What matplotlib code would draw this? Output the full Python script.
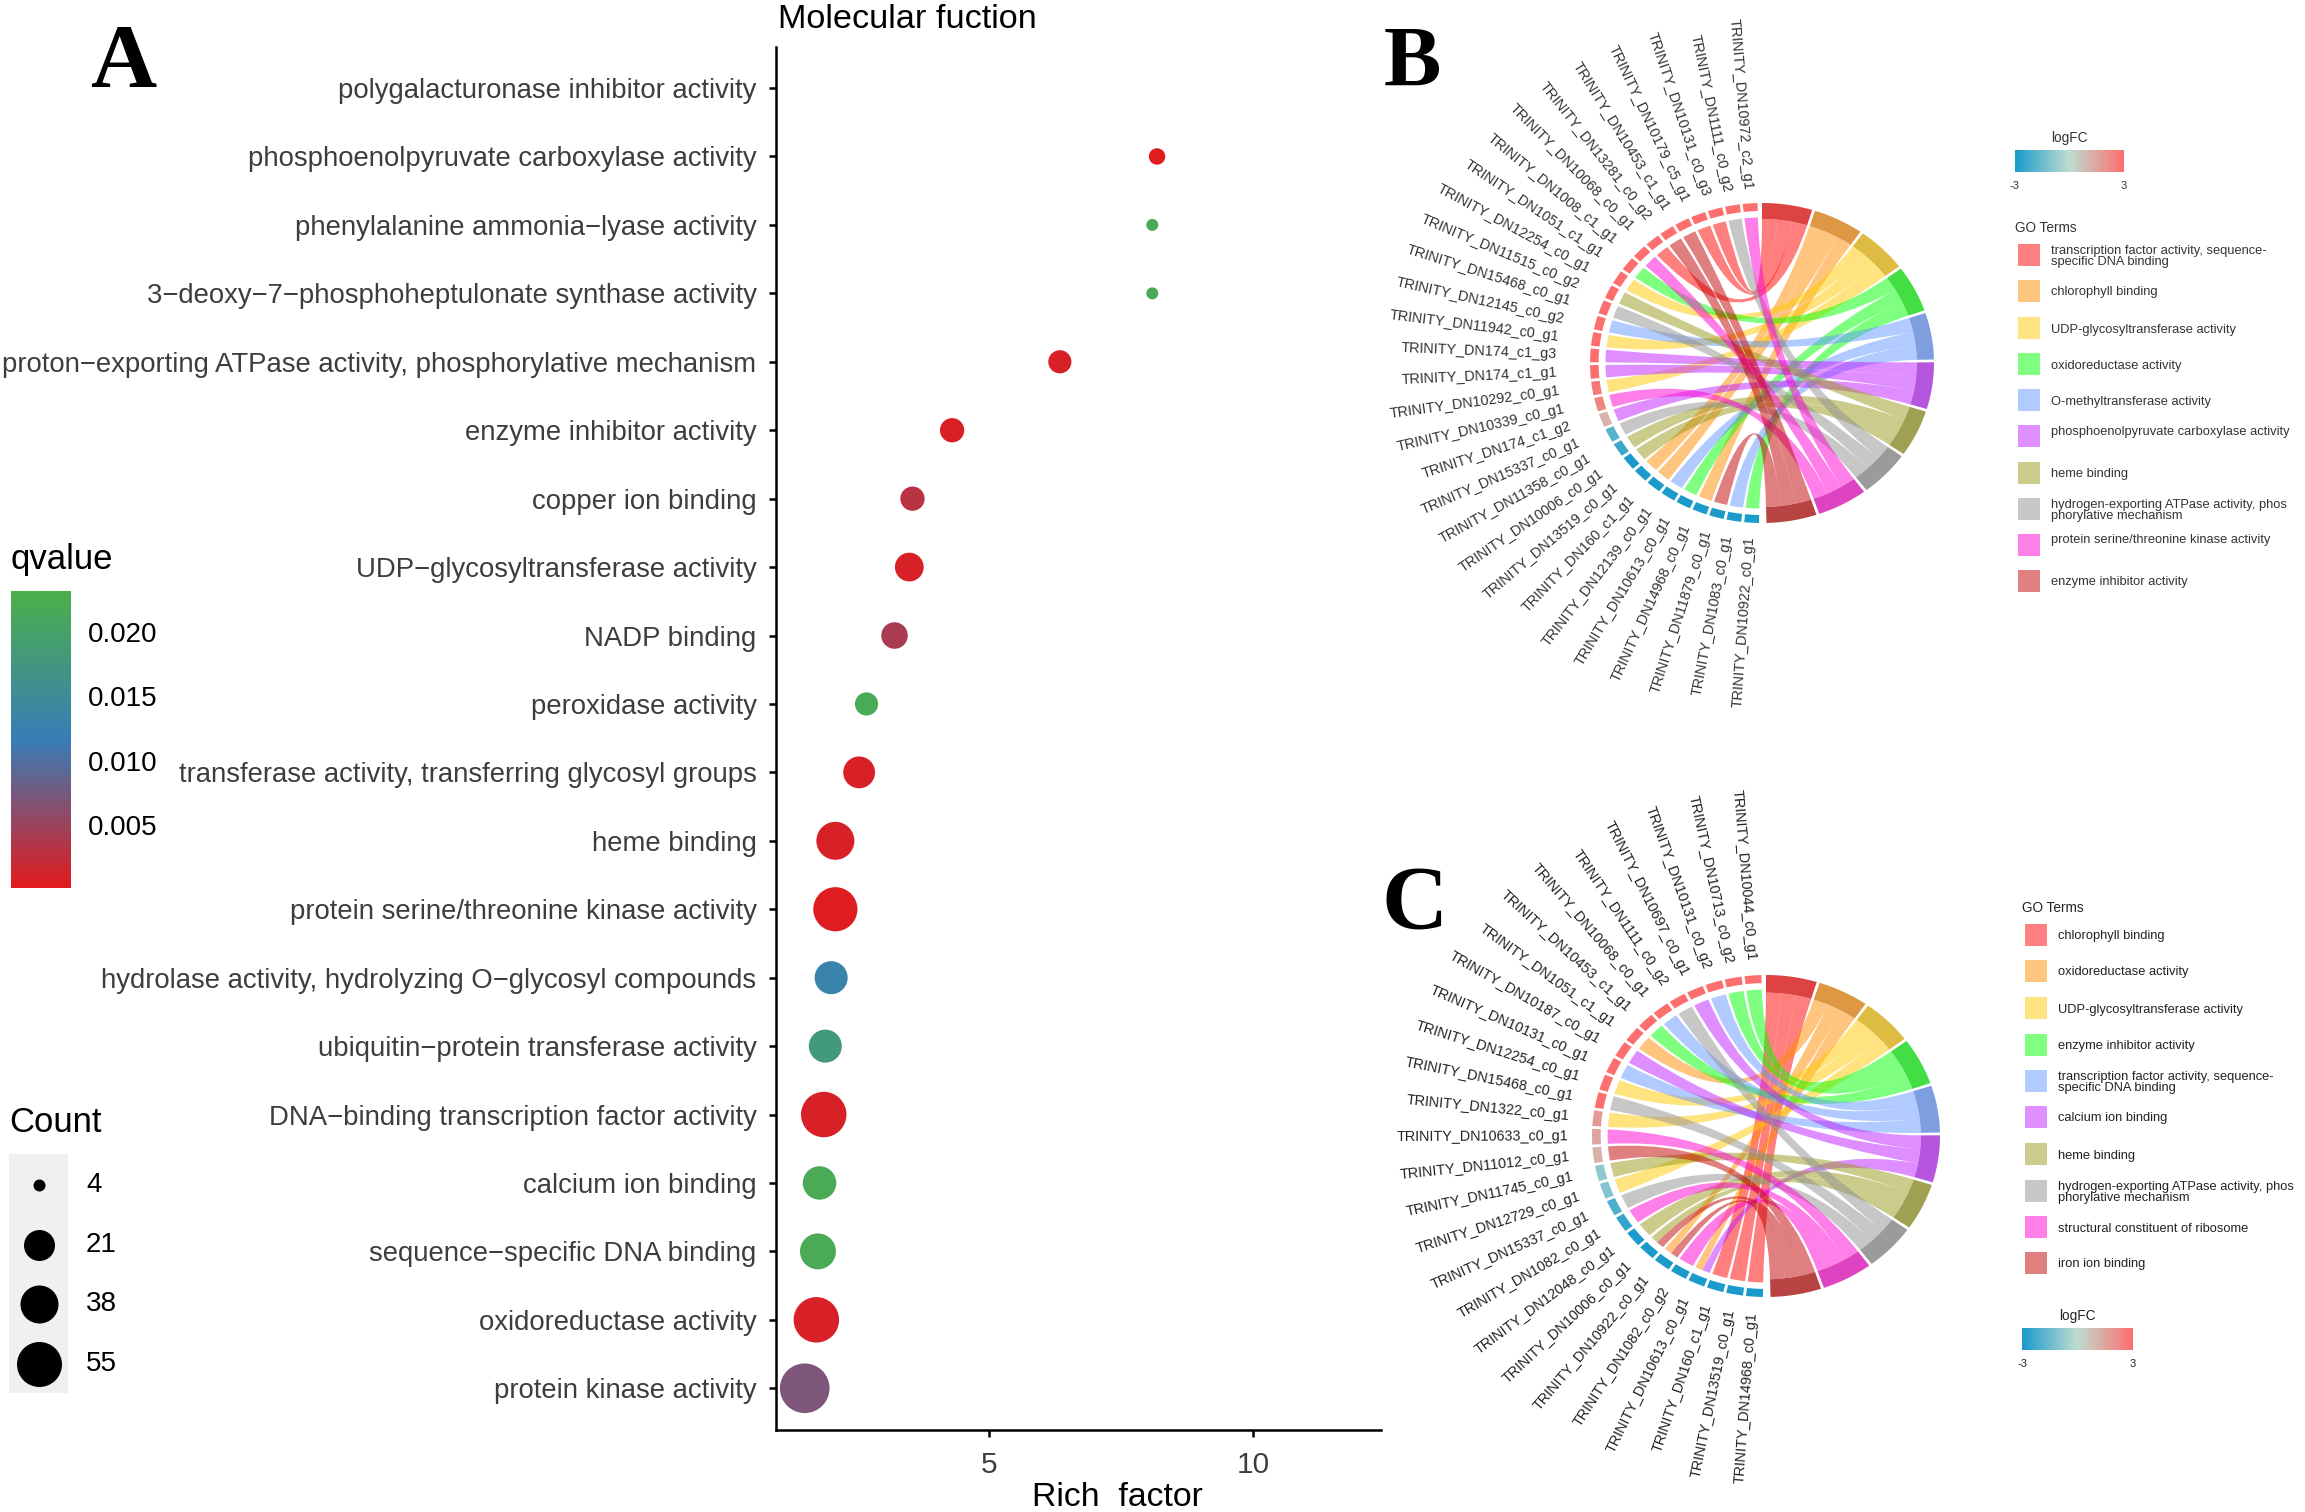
import numpy as np
import matplotlib
matplotlib.use('Agg')
import matplotlib.pyplot as plt
from matplotlib.colors import LinearSegmentedColormap, Normalize, to_rgb
from matplotlib.patches import PathPatch, Rectangle
from matplotlib.path import Path

plt.rcParams['font.family'] = ['Liberation Sans', 'DejaVu Sans']

# panel A
go_terms = ['polygalacturonase inhibitor activity', 'phosphoenolpyruvate carboxylase activity',
            'phenylalanine ammonia−lyase activity', '3−deoxy−7−phosphoheptulonate synthase activity',
            'proton−exporting ATPase activity, phosphorylative mechanism', 'enzyme inhibitor activity',
            'copper ion binding', 'UDP−glycosyltransferase activity', 'NADP binding', 'peroxidase activity',
            'transferase activity, transferring glycosyl groups', 'heme binding',
            'protein serine/threonine kinase activity', 'hydrolase activity, hydrolyzing O−glycosyl compounds',
            'ubiquitin−protein transferase activity', 'DNA−binding transcription factor activity',
            'calcium ion binding', 'sequence−specific DNA binding', 'oxidoreductase activity',
            'protein kinase activity']
rich_factor = [np.nan, 8.18, 8.09, 8.09, 6.34, 4.3, 3.55, 3.49, 3.21, 2.68, 2.54, 2.09, 2.09, 2.01, 1.9, 1.87,
               1.79, 1.76, 1.73, 1.51]
qvalue = [np.nan, 0.0005, 0.022, 0.022, 0.001, 0.001, 0.003, 0.001, 0.004, 0.022, 0.001, 0.001, 0.0005, 0.013,
          0.018, 0.001, 0.022, 0.022, 0.001, 0.007]
count = [np.nan, 8, 4, 4, 14, 15, 15, 19, 17, 14, 23, 38, 53, 26, 26, 56, 27, 33, 56, 65]
count_ticks = [4, 21, 38, 55]
q_ticks = [0.005, 0.010, 0.015, 0.020]

# panel B
genes_b = ['DN10972_c2_g1', 'DN1111_c0_g2', 'DN10131_c0_g3', 'DN10179_c5_g1', 'DN10453_c1_g1', 'DN13281_c0_g2',
           'DN10068_c0_g1', 'DN1008_c1_g1', 'DN1051_c1_g1', 'DN12254_c0_g1', 'DN11515_c0_g2', 'DN15468_c0_g1',
           'DN12145_c0_g2', 'DN11942_c0_g1', 'DN174_c1_g3', 'DN174_c1_g1', 'DN10292_c0_g1', 'DN10339_c0_g1',
           'DN174_c1_g2', 'DN15337_c0_g1', 'DN11358_c0_g1', 'DN10006_c0_g1', 'DN13519_c0_g1', 'DN160_c1_g1',
           'DN12139_c0_g1', 'DN10613_c0_g1', 'DN14968_c0_g1', 'DN11879_c0_g1', 'DN1083_c0_g1', 'DN10922_c0_g1']
logfc_b = [3, 3, 3, 3, 3, 3, 3, 3, 3, 3, 3, 3, 3, 3, 3, 3, 2.7, 2.4, 1.2, -1.9, -2.4, -3, -3, -3, -3, -3, -3, -3, -3, -3]
terms_b = ['transcription factor activity, sequence-\nspecific DNA binding', 'chlorophyll binding',
           'UDP-glycosyltransferase activity', 'oxidoreductase activity', 'O-methyltransferase activity',
           'phosphoenolpyruvate carboxylase activity', 'heme binding',
           'hydrogen-exporting ATPase activity, phos\nphorylative mechanism',
           'protein serine/threonine kinase activity', 'enzyme inhibitor activity']
# which term each gene links to, top of the circle going anticlockwise
links_b = [[8], [7], [0], [0], [9], [9], [0], [8], [3], [2], [6], [7], [4], [2], [5], [5], [2], [8], [5], [7], [6], [6],
           [1], [1], [4], [3], [1], [9], [4], [3]]

# panel C
genes_c = ['DN10044_c0_g1', 'DN10713_c0_g2', 'DN10131_c0_g2', 'DN10697_c0_g1', 'DN1111_c0_g2', 'DN10068_c0_g1',
           'DN10453_c1_g1', 'DN1051_c1_g1', 'DN10187_c0_g1', 'DN10131_c0_g1', 'DN12254_c0_g1', 'DN15468_c0_g1',
           'DN1322_c0_g1', 'DN10633_c0_g1', 'DN11012_c0_g1', 'DN11745_c0_g1', 'DN12729_c0_g1', 'DN15337_c0_g1',
           'DN1082_c0_g1', 'DN12048_c0_g1', 'DN10006_c0_g1', 'DN10922_c0_g1', 'DN1082_c0_g2', 'DN10613_c0_g1',
           'DN160_c1_g1', 'DN13519_c0_g1', 'DN14968_c0_g1']
logfc_c = [3, 3, 3, 3, 3, 3, 3, 3, 3, 3, 3, 3, 1.8, 1.5, 1.2, -0.9, -1.1, -2.1, -2.6, -3, -3, -3, -3, -3, -3, -3, -3]
terms_c = ['chlorophyll binding', 'oxidoreductase activity', 'UDP-glycosyltransferase activity',
           'enzyme inhibitor activity', 'transcription factor activity, sequence-\nspecific DNA binding',
           'calcium ion binding', 'heme binding', 'hydrogen-exporting ATPase activity, phos\nphorylative mechanism',
           'structural constituent of ribosome', 'iron ion binding']
links_c = [[3], [3], [4], [5], [7], [4], [3], [1], [5], [4], [2], [7], [2], [8], [9], [6], [2], [7], [8], [6], [6, 9],
           [1, 9], [8], [1, 5], [0], [0], [0]]

term_colors = ['#ff0000', '#ff8c00', '#ffc800', '#00ff00', '#6496ff', '#be1eff', '#999919', '#919191', '#ff00d2',
               '#c10000']
logfc_cmap = LinearSegmentedColormap.from_list('logfc', ['#1a9bcb', '#bfddd1', '#fd6f6e'])
logfc_norm = Normalize(-3, 3)
q_cmap = LinearSegmentedColormap.from_list('q', ['#e41a1c', '#377eb8', '#4daf4a'])
q_norm = Normalize(0.0001, 0.0232)

W, H = 2305, 1512
PX = 0.72  # points per pixel at dpi 100
fig = plt.figure(figsize=(W / 100, H / 100), dpi=100)

# overlay in pixel coordinates for the legends and the chord panels
ov = fig.add_axes([0, 0, 1, 1])
ov.set_axis_off()


def lighter(c, a):
    return tuple(a * v + (1 - a) for v in to_rgb(c))


def polar(theta, r, c):
    t = np.radians(theta)
    return c[0] + c[2] * r * np.sin(t), c[1] - c[3] * r * np.cos(t)


def ring(t1, t2, r1, r2, c, color):
    ts = np.linspace(t1, t2, 30)
    xo, yo = polar(ts, r2, c)
    xi, yi = polar(ts[::-1], r1, c)
    ov.fill(np.r_[xo, xi], np.r_[yo, yi], color=color, lw=0, zorder=3)


def ribbon(g1, g2, s1, s2, c, rg, rs, color):
    # gene arc, curve through the centre, sector arc backwards, curve back
    tg = np.linspace(g1, g2, 12)
    ts = np.linspace(s2, s1, 12)
    gx, gy = polar(tg, rg, c)
    sx, sy = polar(ts, rs, c)
    verts = list(zip(gx, gy)) + [(c[0], c[1]), (sx[0], sy[0])] + list(zip(sx[1:], sy[1:])) + \
        [(c[0], c[1]), (gx[0], gy[0]), (gx[0], gy[0])]
    codes = [Path.MOVETO] + [Path.LINETO] * 11 + [Path.CURVE3, Path.CURVE3] + [Path.LINETO] * 11 + \
        [Path.CURVE3, Path.CURVE3, Path.CLOSEPOLY]
    ov.add_patch(PathPatch(Path(verts, codes), facecolor=color, edgecolor='none', alpha=0.5, zorder=2))


def chord(genes, logfc, links, c, label_r, band_in, label_color):
    n_terms = len(term_colors)
    sec_w = 179.5 / n_terms
    gene_w = 178.5 / len(genes)
    sec_gap, gene_gap = 1.0, 1.0
    members = [[g for g, ls in enumerate(links) if t in ls] for t in range(n_terms)]
    for t in range(n_terms):
        s0 = t * sec_w
        ring(s0, s0 + sec_w - sec_gap, band_in, 1.0, c, tuple(0.87 * v for v in lighter(term_colors[t], 0.7)))
        part = (sec_w - sec_gap) / len(members[t])
        for k, g in enumerate(members[t]):
            g0 = -(1.5 + g * gene_w)
            gw = (gene_w - gene_gap) / len(links[g])
            j = links[g].index(t)
            ribbon(g0 - j * gw, g0 - (j + 1) * gw, s0 + k * part, s0 + (k + 1) * part, c, 0.91, band_in,
                   term_colors[t])
    for g, name in enumerate(genes):
        g0 = -(1.5 + g * gene_w)
        ring(g0, g0 - gene_w + gene_gap, 0.95, 1.0, c, logfc_cmap(logfc_norm(logfc[g])))
        mid = np.radians(g0 - (gene_w - gene_gap) / 2)
        dx, dy = label_r[0] * np.sin(mid), label_r[1] * np.cos(mid)
        rot = np.degrees(np.arctan2(-dy, -dx))
        ov.text(c[0] + dx, c[1] - dy, 'TRINITY_' + name, rotation=rot, rotation_mode='anchor', ha='right',
                va='center', fontsize=10.4, color=label_color)


def gradient(x0, x1, y0, y1, cmap, vertical=False):
    g = np.linspace(0, 1, 256)
    g = g.reshape(-1, 1) if vertical else g.reshape(1, -1)
    ov.imshow(g, cmap=cmap, extent=(x0, x1, y1, y0), aspect='auto', origin='upper' if not vertical else 'lower',
              zorder=3)


def go_legend(x, ys, terms, dy, title_y, label_color):
    ov.text(x, title_y + 1.5, 'GO Terms', fontsize=9.8, va='center', color=label_color)
    for t, term in enumerate(terms):
        ov.add_patch(Rectangle((x + 3, ys[t] - 11), 22, 22, color=lighter(term_colors[t], 0.5), lw=0))
        ov.text(x + 36, ys[t] + dy[t] + 1.5, term, fontsize=9.3, va='center', color=label_color, linespacing=0.95)


def logfc_legend(x0, x1, y0, y1, label_color):
    gradient(x0, x1, y0, y1, logfc_cmap)
    ov.text((x0 + x1) / 2, y0 - 12, 'logFC', fontsize=9.8, ha='center', va='center', color=label_color)
    ov.text(x0, y1 + 14, '-3', fontsize=8, ha='center', va='center', color=label_color)
    ov.text(x1, y1 + 14, '3', fontsize=8, ha='center', va='center', color=label_color)


chord(genes_b, logfc_b, links_b, (1762, 363, 172, 160), (205, 174), 0.90, '#333333')
chord(genes_c, logfc_c, links_c, (1766, 1136, 174, 161), (198, 176), 0.89, '#222222')

logfc_legend(2015, 2124, 150, 172, '#333333')
go_legend(2015, [255, 291, 328, 364, 400, 436, 473, 509, 545, 581], terms_b,
          [0, 0, 0, 0, 0, -6, 0, 0, -6, 0], 227, '#333333')
logfc_legend(2022, 2133, 1328, 1350, '#222222')
go_legend(2022, [935, 971, 1008, 1045, 1081, 1117, 1154, 1191, 1227, 1263], terms_c,
          [0] * 10, 906, '#222222')

# panel A legends
ov.text(11, 560, 'qvalue', fontsize=25, va='center')
gradient(11, 71, 591, 888, q_cmap, vertical=True)
for q in q_ticks:
    qy = 888 - (q - q_norm.vmin) / (q_norm.vmax - q_norm.vmin) * (888 - 591)
    ov.plot([11, 23], [qy, qy], color='white', lw=1.2)
    ov.plot([59, 71], [qy, qy], color='white', lw=1.2)
    ov.text(88, qy + 3, '%.3f' % q, fontsize=20, va='center')

ov.text(9, 1122, 'Count', fontsize=25, va='center')
ov.add_patch(Rectangle((9, 1154), 59, 239, color='#f0f0f0', lw=0))
size_pts = [4, 21, 38, 55, 70]
size_px = [12, 31, 38, 45, 52]
for cnt, ky in zip(count_ticks, [1185, 1245, 1304, 1364]):
    d = np.interp(cnt, size_pts, size_px)
    ov.scatter([39], [ky], s=(d * PX) ** 2, color='black', lw=0, zorder=3)
    ov.text(86, ky, str(cnt), fontsize=20, va='center')

ov.text(90, 87, 'A', fontsize=66, family='Liberation Serif', weight='bold', va='baseline')
ov.text(1384, 86, 'B', fontsize=62, family='Liberation Serif', weight='bold', va='baseline')
ov.text(1382, 929, 'C', fontsize=66, family='Liberation Serif', weight='bold', va='baseline')
ov.text(778, 20, 'Molecular fuction', fontsize=24.7, va='center')
ov.text(1032, 1498, 'Rich  factor', fontsize=24.3, va='center')

ov.set_xlim(0, W)
ov.set_ylim(H, 0)

# dot plot
ax = fig.add_axes([776 / W, (H - 1430) / H, (1381 - 776) / W, (1430 - 47) / H])
ax.patch.set_alpha(0)
rows = np.arange(len(go_terms))
diam = np.interp(count, size_pts, size_px)
ax.scatter(rich_factor, rows, s=(diam * PX) ** 2, c=qvalue, cmap=q_cmap, norm=q_norm, lw=0, zorder=3, clip_on=False)
ax.set_xlim(0.966, 12.42)
ax.set_ylim(19.61, -0.6)
ax.set_yticks(rows)
ax.set_yticklabels(go_terms, fontsize=19.8, color='#3d3d3d')
ax.set_xticks([5, 10])
ax.set_xticklabels(['5', '10'], fontsize=21.5, color='#3d3d3d')
ax.tick_params(axis='y', length=5, width=1.8, color='black', pad=9)
ax.tick_params(axis='x', length=5, width=1.8, color='black', pad=10)
for s in ['top', 'right']:
    ax.spines[s].set_visible(False)
for s in ['left', 'bottom']:
    ax.spines[s].set_linewidth(1.8)

fig.savefig('out.png', dpi=100)
